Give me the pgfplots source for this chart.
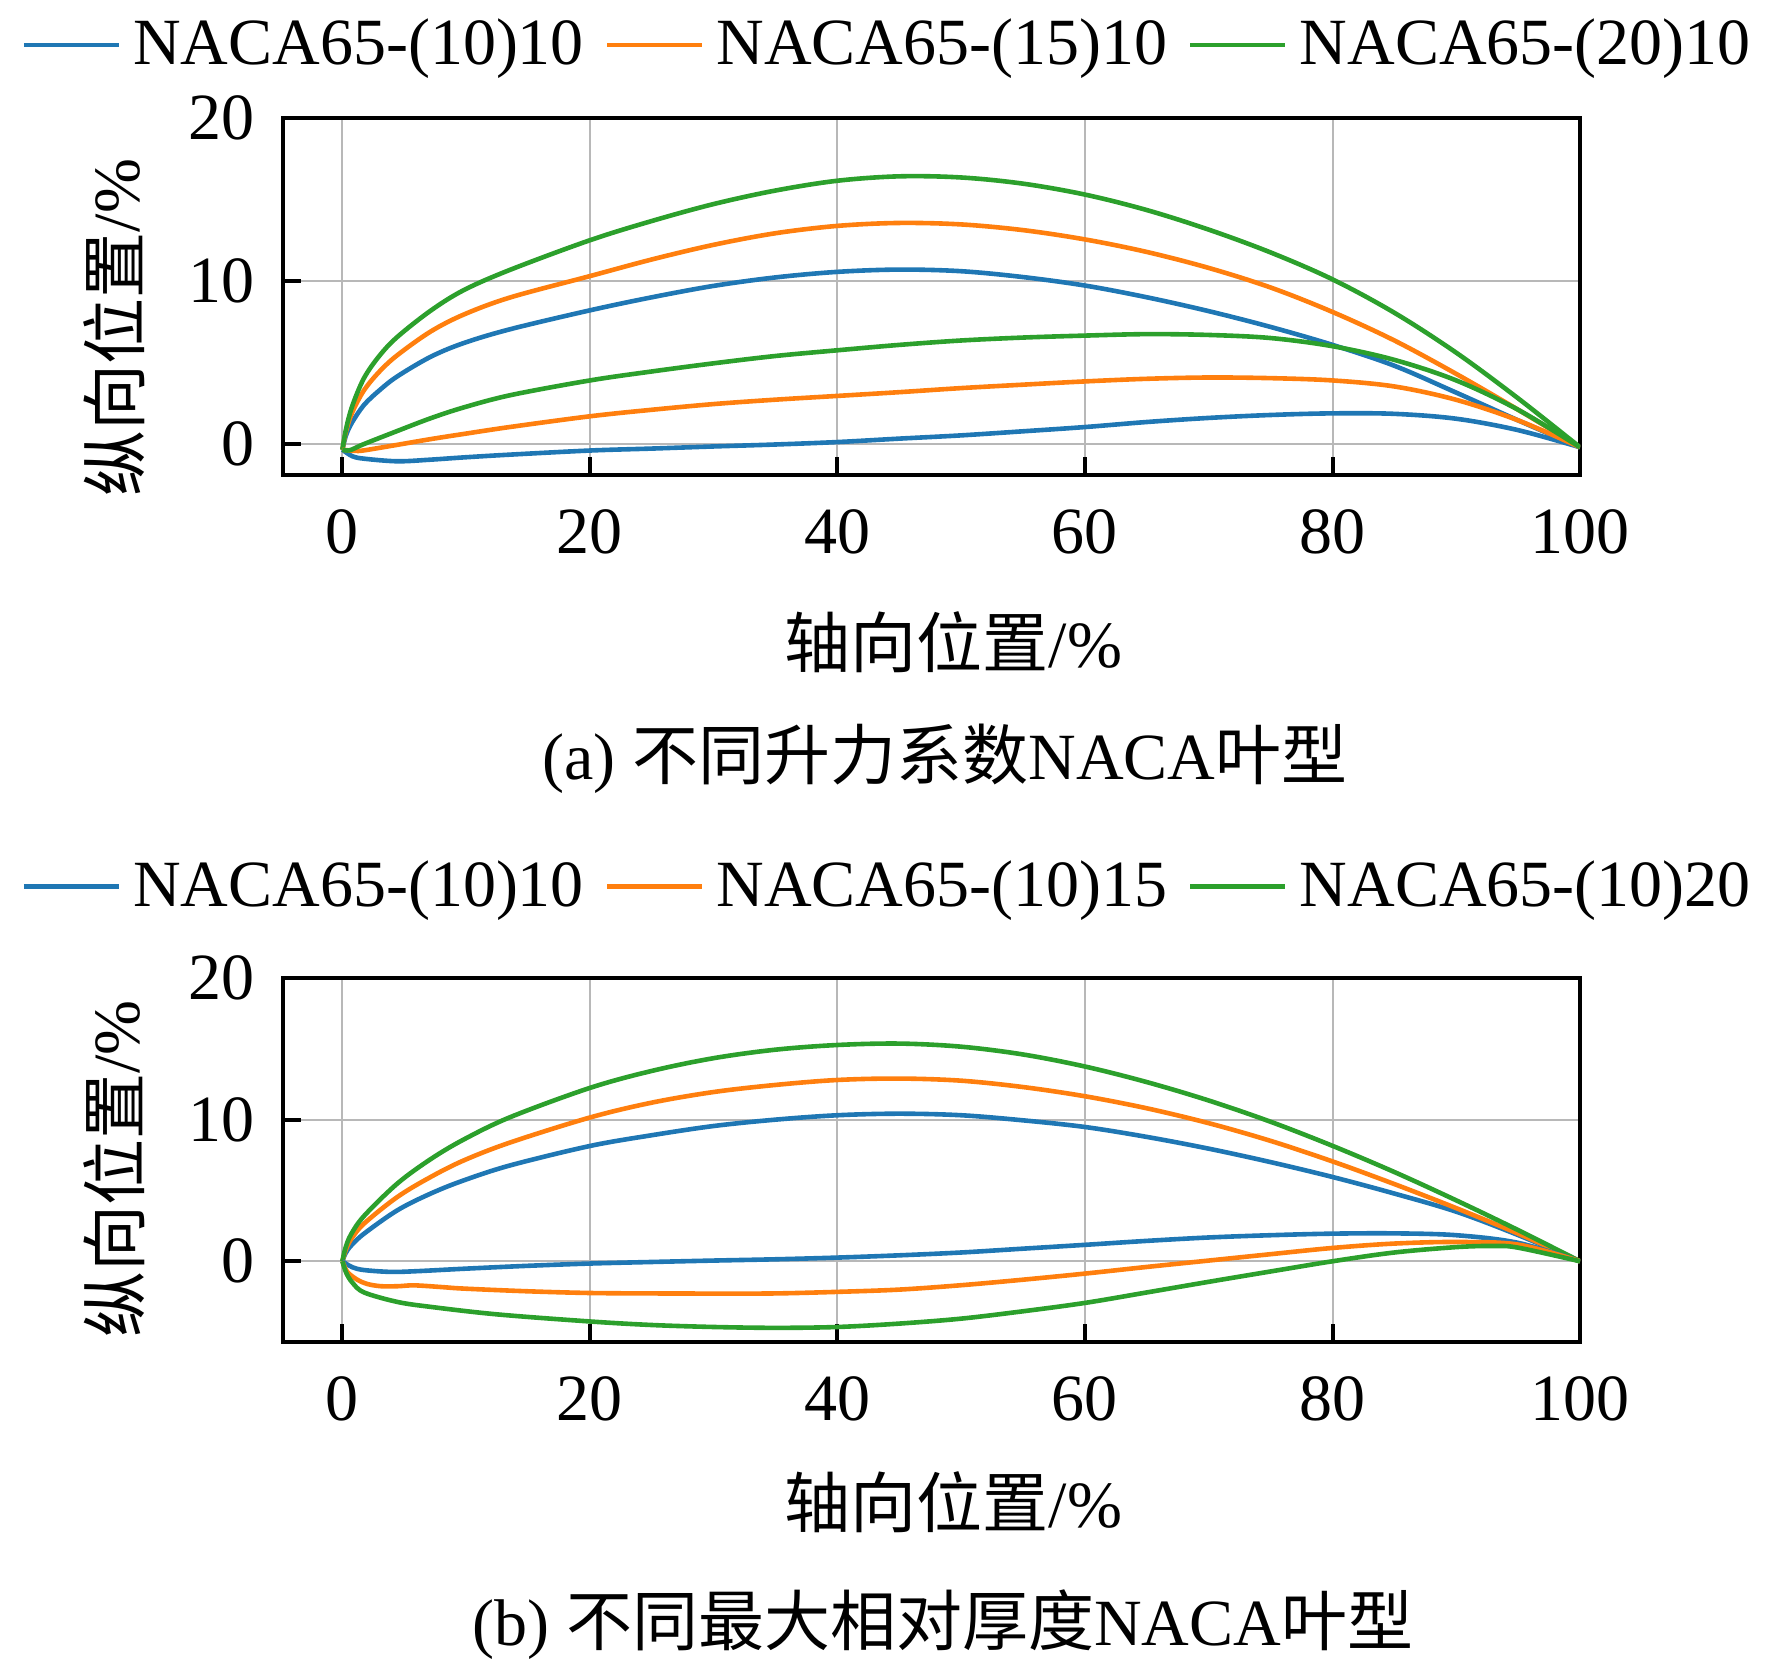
\documentclass[border=0pt]{standalone}
\usepackage{fontspec}
\setmainfont{Liberation Serif}
\newfontfamily\cjk{Noto Sans CJK SC}
\usepackage{pgfplots}
\pgfplotsset{compat=1.18}
\definecolor{c1}{HTML}{1F77B4}
\definecolor{c2}{HTML}{FF7F0E}
\definecolor{c3}{HTML}{2CA02C}
\newcommand{\fs}{\fontsize{16.5}{19.8}\selectfont}
\pgfplotsset{
 myaxis/.style={
  scale only axis, width=324.25pt, anchor=south west,
  xmin=-4.8, xmax=100, ymax=20,
  xtick={0,20,40,60,80,100}, ytick={0,10,20},
  grid=major, grid style={line width=0.5pt, color=black!28},
  axis line style={line width=1.1pt},
  tick align=inside, tick pos=left,
  major tick length=4.5pt,
  every tick/.style={black, line width=1pt},
  tick label style={font=\fs},
  /pgf/number format/assume math mode=true,
  xticklabel style={yshift=-5pt},
  yticklabel style={xshift=-3.7pt},
  label style={font=\fs},
  legend columns=3,
  legend style={draw=none, fill=none, font=\fs, inner sep=0pt, anchor=center,
    nodes={inner sep=0pt},
    column sep=3pt, /tikz/every even column/.append style={column sep=5.2pt}},
  legend image code/.code={\draw[##1, line width=1.15pt] (0pt,0pt) -- (23.75pt,0pt);},
  every axis plot/.append style={line width=1.15pt, smooth, tension=0.55},
 }
}
\begin{document}
\begin{tikzpicture}
\useasboundingbox (0,0) rectangle (443pt,416.75pt);
% ---------------- (a)
\begin{axis}[myaxis, at={(70.75pt,298pt)}, height=89.25pt, ymin=-1.9,
  legend style={at={(rel axis cs:0.465,1.2045)}},
  xlabel={{\cjk 轴向位置}/\%}, xlabel style={at={(rel axis cs:0.517,-0.469)}, anchor=center},
  ylabel={{\cjk 纵向位置}/\%}, ylabel style={at={(rel axis cs:-0.1303,0.413)}, anchor=center}]
\addplot[c1] coordinates {(0,-0.35) (0.3,0.55) (0.8,1.35) (1.75,2.4) (3,3.3) (4.44,4.15) (7.13,5.35) (9.83,6.2) (13.6,7.05) (20,8.2) (25,9.0) (30,9.7) (35,10.22) (40,10.56) (45,10.7) (50,10.6) (55,10.24) (60,9.72) (65,9.0) (70,8.15) (75,7.18) (80,6.08) (85,4.8) (90,3.15) (95,1.45) (100,-0.2)};
\addlegendentry{NACA65-(10)10}
\addplot[c2] coordinates {(0,-0.35) (0.3,0.8) (0.8,1.95) (1.75,3.3) (3,4.45) (4.44,5.45) (7.13,6.9) (9.83,7.95) (13.6,9.0) (20,10.3) (25,11.32) (30,12.22) (35,12.93) (40,13.38) (45,13.56) (50,13.47) (55,13.12) (60,12.55) (65,11.78) (70,10.8) (75,9.6) (80,8.1) (85,6.35) (90,4.3) (95,2.1) (100,-0.2)};
\addlegendentry{NACA65-(15)10}
\addplot[c3] coordinates {(0,-0.35) (0.3,0.94) (0.8,2.34) (1.75,4.05) (3,5.42) (4.44,6.57) (7.13,8.18) (9.83,9.45) (13.6,10.7) (20,12.5) (25,13.68) (30,14.72) (35,15.55) (40,16.15) (45,16.42) (50,16.35) (55,15.97) (60,15.3) (65,14.35) (70,13.15) (75,11.75) (80,10.1) (85,8.05) (90,5.6) (95,2.8) (100,-0.2)};
\addlegendentry{NACA65-(20)10}
\addplot[c1, forget plot] coordinates {(0,-0.35) (0.8,-0.75) (1.75,-0.9) (4.44,-1.06) (7.13,-0.96) (9.83,-0.82) (13.6,-0.65) (20,-0.4) (25,-0.28) (30,-0.15) (35,-0.03) (40,0.12) (45,0.33) (50,0.53) (55,0.78) (60,1.04) (65,1.35) (70,1.6) (75,1.78) (80,1.88) (85,1.85) (90,1.55) (95,0.85) (100,-0.2)};
\addplot[c2, forget plot] coordinates {(0,-0.35) (1,-0.42) (1.75,-0.39) (4.44,-0.05) (7.13,0.3) (9.83,0.62) (13.6,1.05) (20,1.7) (25,2.1) (30,2.45) (35,2.72) (40,2.95) (45,3.18) (50,3.43) (55,3.64) (60,3.84) (65,4.0) (70,4.08) (75,4.04) (80,3.9) (85,3.53) (90,2.71) (95,1.45) (100,-0.2)};
\addplot[c3, forget plot] coordinates {(0,-0.35) (0.6,-0.38) (1.75,0.0) (4.44,0.8) (7.13,1.58) (9.83,2.25) (13.6,3.0) (20,3.9) (25,4.45) (30,4.95) (35,5.4) (40,5.75) (45,6.08) (50,6.35) (55,6.53) (60,6.65) (65,6.74) (70,6.69) (75,6.5) (80,6.0) (85,5.16) (90,3.9) (95,2.1) (100,-0.2)};
\end{axis}
% ---------------- (b)
\begin{axis}[myaxis, at={(70.75pt,81.25pt)}, height=91pt, ymin=-5.7,
  legend style={at={(rel axis cs:0.465,1.252)}},
  xlabel={{\cjk 轴向位置}/\%}, xlabel style={at={(rel axis cs:0.517,-0.439)}, anchor=center},
  ylabel={{\cjk 纵向位置}/\%}, ylabel style={at={(rel axis cs:-0.1303,0.475)}, anchor=center}]
\addplot[c1] coordinates {(0,0) (0.25,0.55) (0.7,1.1) (1.75,1.95) (4.44,3.6) (7.13,4.78) (9.83,5.72) (13.6,6.78) (20,8.14) (25,8.9) (30,9.55) (35,10.0) (40,10.31) (45,10.42) (50,10.31) (55,9.95) (60,9.48) (65,8.78) (70,7.95) (75,7.0) (80,5.95) (85,4.78) (90,3.5) (95,1.85) (100,0)};
\addlegendentry{NACA65-(10)10}
\addplot[c2] coordinates {(0,0) (0.25,0.75) (0.7,1.55) (1.75,2.66) (4.44,4.54) (7.13,5.95) (9.83,7.13) (13.6,8.4) (20,10.15) (25,11.2) (30,11.95) (35,12.45) (40,12.8) (45,12.9) (50,12.75) (55,12.3) (60,11.65) (65,10.8) (70,9.75) (75,8.5) (80,7.05) (85,5.45) (90,3.75) (95,1.95) (100,0)};
\addlegendentry{NACA65-(10)15}
\addplot[c3] coordinates {(0,0) (0.25,0.95) (0.7,1.9) (1.75,3.2) (4.44,5.49) (7.13,7.21) (9.83,8.61) (13.6,10.19) (20,12.24) (25,13.44) (30,14.34) (35,14.94) (40,15.27) (45,15.37) (50,15.15) (55,14.6) (60,13.75) (65,12.65) (70,11.35) (75,9.85) (80,8.15) (85,6.3) (90,4.3) (95,2.2) (100,0)};
\addlegendentry{NACA65-(10)20}
\addplot[c1, forget plot] coordinates {(0,0) (0.8,-0.42) (1.75,-0.62) (3.9,-0.75) (6,-0.7) (10,-0.52) (15,-0.32) (20,-0.16) (25,-0.05) (30,0.05) (35,0.14) (40,0.26) (45,0.42) (50,0.62) (55,0.89) (60,1.16) (65,1.44) (70,1.68) (75,1.84) (80,1.95) (85,1.97) (90,1.84) (95,1.3) (100,0)};
\addplot[c2, forget plot] coordinates {(0,0) (0.4,-0.75) (1.2,-1.3) (2,-1.6) (3.1,-1.76) (4.5,-1.76) (5.8,-1.7) (8,-1.82) (9.83,-1.93) (15,-2.12) (20,-2.24) (25,-2.27) (30,-2.28) (35,-2.27) (40,-2.16) (45,-2.0) (50,-1.69) (55,-1.3) (60,-0.87) (65,-0.4) (70,0.05) (75,0.5) (80,0.94) (85,1.25) (90,1.36) (95,1.18) (100,0)};
\addplot[c3, forget plot] coordinates {(0,0) (0.3,-0.8) (0.8,-1.5) (1.75,-2.2) (4.44,-2.87) (7.13,-3.22) (12.5,-3.75) (20,-4.25) (25,-4.5) (30,-4.64) (35,-4.7) (40,-4.64) (45,-4.4) (50,-4.05) (55,-3.53) (60,-2.94) (65,-2.2) (70,-1.45) (75,-0.72) (80,0) (85,0.62) (90,1.0) (93,1.08) (95,0.96) (100,0)};
\end{axis}
\node[font=\fs] at (236.25pt,227pt) {(a) {\cjk 不同升力系数}NACA{\cjk 叶型}};
\node[font=\fs] at (235.75pt,10.7pt) {(b) {\cjk 不同最大相对厚度}NACA{\cjk 叶型}};
\end{tikzpicture}
\end{document}
